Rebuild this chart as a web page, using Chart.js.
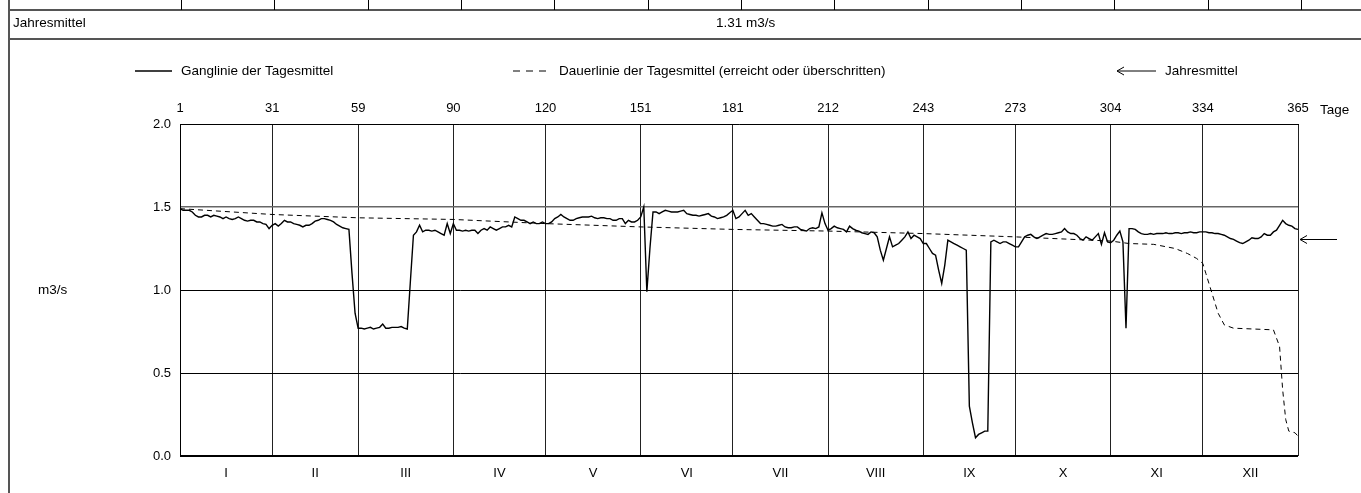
<!DOCTYPE html>
<html>
<head>
<meta charset="utf-8">
<script src="https://cdn.jsdelivr.net/npm/chart.js@4/dist/chart.umd.min.js"></script>
<style>
  html, body { margin: 0; padding: 0; background: #fff; }
  #wrap { position: relative; width: 1361px; height: 493px; }
</style>
</head>
<body>
<div id="wrap"><canvas id="chart"></canvas></div>
<script>
// Tagesmittel (m3/s) je Monat
const janValues = [1.49,1.48,1.48,1.48,1.47,1.45,1.44,1.44,1.45,1.45,1.44,1.45,1.445,1.44,1.43,1.44,1.43,1.425,1.43,1.44,1.43,1.42,1.415,1.42,1.42,1.41,1.41,1.40,1.395,1.37,1.39];
const febValues = [1.40,1.385,1.40,1.42,1.41,1.41,1.40,1.395,1.39,1.38,1.39,1.39,1.40,1.415,1.42,1.43,1.43,1.425,1.42,1.41,1.395,1.385,1.375,1.37,1.365,1.10,0.86,0.77];
const marValues = [0.77,0.765,0.77,0.775,0.765,0.77,0.775,0.795,0.77,0.77,0.775,0.775,0.775,0.78,0.77,0.765,1.05,1.33,1.35,1.39,1.35,1.36,1.36,1.355,1.36,1.35,1.34,1.33,1.40,1.34,1.40];
const aprValues = [1.36,1.36,1.355,1.36,1.355,1.36,1.36,1.34,1.36,1.37,1.36,1.38,1.37,1.36,1.37,1.38,1.38,1.39,1.38,1.44,1.43,1.42,1.42,1.41,1.40,1.41,1.40,1.40,1.41,1.40];
const mayValues = [1.40,1.41,1.43,1.44,1.455,1.44,1.43,1.42,1.42,1.43,1.435,1.44,1.44,1.44,1.445,1.435,1.43,1.435,1.435,1.43,1.43,1.42,1.42,1.43,1.43,1.40,1.42,1.41,1.41,1.42,1.44];
const junValues = [1.50,0.99,1.25,1.47,1.47,1.46,1.47,1.48,1.475,1.47,1.47,1.47,1.475,1.48,1.46,1.455,1.45,1.45,1.445,1.45,1.455,1.46,1.445,1.44,1.43,1.435,1.44,1.45,1.465,1.48];
const julValues = [1.43,1.44,1.46,1.48,1.45,1.46,1.44,1.42,1.40,1.40,1.395,1.39,1.385,1.385,1.39,1.395,1.38,1.375,1.375,1.38,1.38,1.365,1.36,1.355,1.37,1.375,1.37,1.38,1.465,1.40,1.36];
const augValues = [1.37,1.385,1.375,1.37,1.365,1.35,1.385,1.37,1.36,1.355,1.345,1.34,1.335,1.35,1.345,1.32,1.24,1.18,1.25,1.32,1.26,1.27,1.28,1.30,1.32,1.35,1.31,1.33,1.32,1.31,1.28];
const sepValues = [1.28,1.25,1.22,1.21,1.12,1.04,1.15,1.30,1.29,1.28,1.27,1.26,1.25,1.24,0.30,0.20,0.11,0.13,0.14,0.15,0.15,1.29,1.30,1.29,1.28,1.29,1.29,1.28,1.27,1.26];
const octValues = [1.26,1.29,1.32,1.33,1.335,1.32,1.31,1.32,1.33,1.34,1.335,1.335,1.34,1.345,1.35,1.37,1.35,1.34,1.34,1.33,1.31,1.30,1.32,1.31,1.30,1.32,1.34,1.275,1.345,1.29,1.285];
const novValues = [1.30,1.33,1.355,1.29,0.77,1.37,1.37,1.365,1.35,1.34,1.335,1.335,1.34,1.335,1.34,1.34,1.34,1.345,1.34,1.34,1.345,1.345,1.34,1.345,1.345,1.35,1.345,1.345,1.35,1.35];
const decValues = [1.35,1.345,1.345,1.34,1.34,1.335,1.33,1.32,1.31,1.305,1.295,1.285,1.28,1.29,1.30,1.315,1.31,1.31,1.32,1.34,1.33,1.33,1.35,1.36,1.39,1.42,1.40,1.39,1.385,1.37,1.365];

const dauerDays   = [1,31,59,90,120,151,181,212,243,273,304,310,318,325,329,332,334,335,337,339,341,344,357,359,360,361,362,364,365];
const dauerValues = [1.49,1.455,1.435,1.425,1.40,1.38,1.365,1.355,1.34,1.32,1.295,1.28,1.275,1.25,1.22,1.19,1.16,1.10,0.98,0.86,0.79,0.77,0.76,0.66,0.40,0.22,0.15,0.14,0.12];

const jahresmittel = 1.31;
const tickDays = [1,31,59,90,120,151,181,212,243,273,304,334,365];
const monthLabels = ["I","II","III","IV","V","VI","VII","VIII","IX","X","XI","XII"];
const yTicks = [0, 0.5, 1.0, 1.5, 2.0];

const ganglinie = [].concat(janValues, febValues, marValues, aprValues, mayValues, junValues,
    julValues, augValues, sepValues, octValues, novValues, decValues);
const days = ganglinie.map((_, i) => i + 1);

const FAMILY = "'Liberation Sans', Arial, sans-serif";
const FONT = "13.5px " + FAMILY;
const monthMids = tickDays.slice(0, -1).map((d, i) => (d + tickDays[i + 1]) / 2);

const drawArrow = (ctx, x1, x2, y) => {
    ctx.beginPath();
    ctx.moveTo(x2, y);
    ctx.lineTo(x1, y);
    ctx.moveTo(x1 + 7, y - 4);
    ctx.lineTo(x1, y);
    ctx.lineTo(x1 + 7, y + 4);
    ctx.stroke();
};

const decor = {
    id: "decor",
    afterDraw(chart) {
        const ctx = chart.ctx;
        const yScale = chart.scales.y;
        ctx.save();

        // table frame on top
        ctx.strokeStyle = "#555";
        ctx.lineWidth = 2;
        ctx.beginPath();
        ctx.moveTo(9, 0); ctx.lineTo(9, 493);
        ctx.moveTo(9, 10); ctx.lineTo(1361, 10);
        ctx.moveTo(9, 39); ctx.lineTo(1361, 39);
        ctx.stroke();
        ctx.lineWidth = 1;
        ctx.strokeStyle = "#000";
        ctx.beginPath();
        for (let k = 0; k < 13; k++) {
            const x = Math.round(181 + k * 93.33) + 0.5;
            ctx.moveTo(x, 0); ctx.lineTo(x, 10);
        }
        ctx.stroke();

        ctx.fillStyle = "#000";
        ctx.font = FONT;
        ctx.textBaseline = "middle";
        ctx.textAlign = "left";
        ctx.fillText("Jahresmittel", 13, 23);
        ctx.fillText(jahresmittel.toFixed(2) + " m3/s", 716, 23);

        // legend
        const ly = 71;
        ctx.lineWidth = 1.3;
        ctx.beginPath(); ctx.moveTo(135, ly); ctx.lineTo(172, ly); ctx.stroke();
        ctx.fillText(chart.data.datasets[0].label, 181, ly);
        ctx.lineWidth = 1;
        ctx.setLineDash([7, 6]);
        ctx.beginPath(); ctx.moveTo(513, ly); ctx.lineTo(549, ly); ctx.stroke();
        ctx.setLineDash([]);
        ctx.fillText(chart.data.datasets[1].label, 559, ly);
        drawArrow(ctx, 1117, 1156, ly);
        ctx.fillText("Jahresmittel", 1165, ly);

        // axis titles
        ctx.fillText("m3/s", 38, yScale.getPixelForValue(1.0));
        ctx.fillText("Tage", 1320, 110);

        // Jahresmittel arrow at the right edge
        const ay = Math.round(yScale.getPixelForValue(jahresmittel)) + 0.5;
        drawArrow(ctx, chart.chartArea.right + 2, 1337, ay);
        ctx.restore();
    }
};

new Chart(document.getElementById("chart").getContext("2d"), {
    type: "line",
    data: {
        labels: days,
        datasets: [
            {
                label: "Ganglinie der Tagesmittel",
                data: ganglinie,
                borderColor: "#000",
                borderWidth: 1.4,
                pointRadius: 0,
                tension: 0,
                fill: false
            },
            {
                label: "Dauerlinie der Tagesmittel (erreicht oder überschritten)",
                data: dauerDays.map((d, i) => ({ x: d, y: dauerValues[i] })),
                borderColor: "#000",
                borderWidth: 1,
                borderDash: [5, 4],
                pointRadius: 0,
                tension: 0,
                fill: false
            }
        ]
    },
    options: {
        responsive: true,
        maintainAspectRatio: false,
        animation: false,
        layout: { padding: { left: 140, right: 63, top: 100, bottom: 7 } },
        plugins: { legend: { display: false }, tooltip: { enabled: false } },
        scales: {
            x: {
                type: "linear",
                position: "top",
                min: 1,
                max: 365,
                afterBuildTicks: (s) => { s.ticks = tickDays.map(v => ({ value: v })); },
                afterFit: (s) => { s.height = 24; },
                ticks: {
                    autoSkip: false, maxRotation: 0, padding: 8, color: "#000",
                    font: { family: FAMILY, size: 13 },
                    callback: (v) => String(v)
                },
                grid: { color: "#222", lineWidth: 1, drawTicks: false },
                border: { display: true, color: "#000", width: 1 }
            },
            x2: {
                type: "linear",
                position: "bottom",
                min: 1,
                max: 365,
                afterBuildTicks: (s) => { s.ticks = monthMids.map(v => ({ value: v })); },
                afterFit: (s) => { s.height = 30; },
                ticks: {
                    autoSkip: false, maxRotation: 0, padding: 10, color: "#000",
                    font: { family: FAMILY, size: 13 },
                    callback: (v, i) => monthLabels[i]
                },
                grid: { display: false, drawTicks: false },
                border: { display: false }
            },
            y: {
                min: 0,
                max: 2,
                afterBuildTicks: (s) => { s.ticks = yTicks.map(v => ({ value: v })); },
                afterFit: (s) => { s.width = 40; },
                ticks: {
                    padding: 9, color: "#000",
                    font: { family: FAMILY, size: 13 },
                    callback: (v) => Number(v).toFixed(1)
                },
                grid: {
                    drawTicks: false,
                    color: (c) => (c.tick && (c.tick.value === 1.5 || c.tick.value === 2)) ? "#666" : "#000",
                    lineWidth: (c) => (c.tick && c.tick.value === 0) ? 2 : (c.tick && c.tick.value === 1.5 ? 1.6 : 1)
                },
                border: { display: true, color: "#000", width: 1 }
            }
        }
    },
    plugins: [decor]
});
</script>
</body>
</html>
